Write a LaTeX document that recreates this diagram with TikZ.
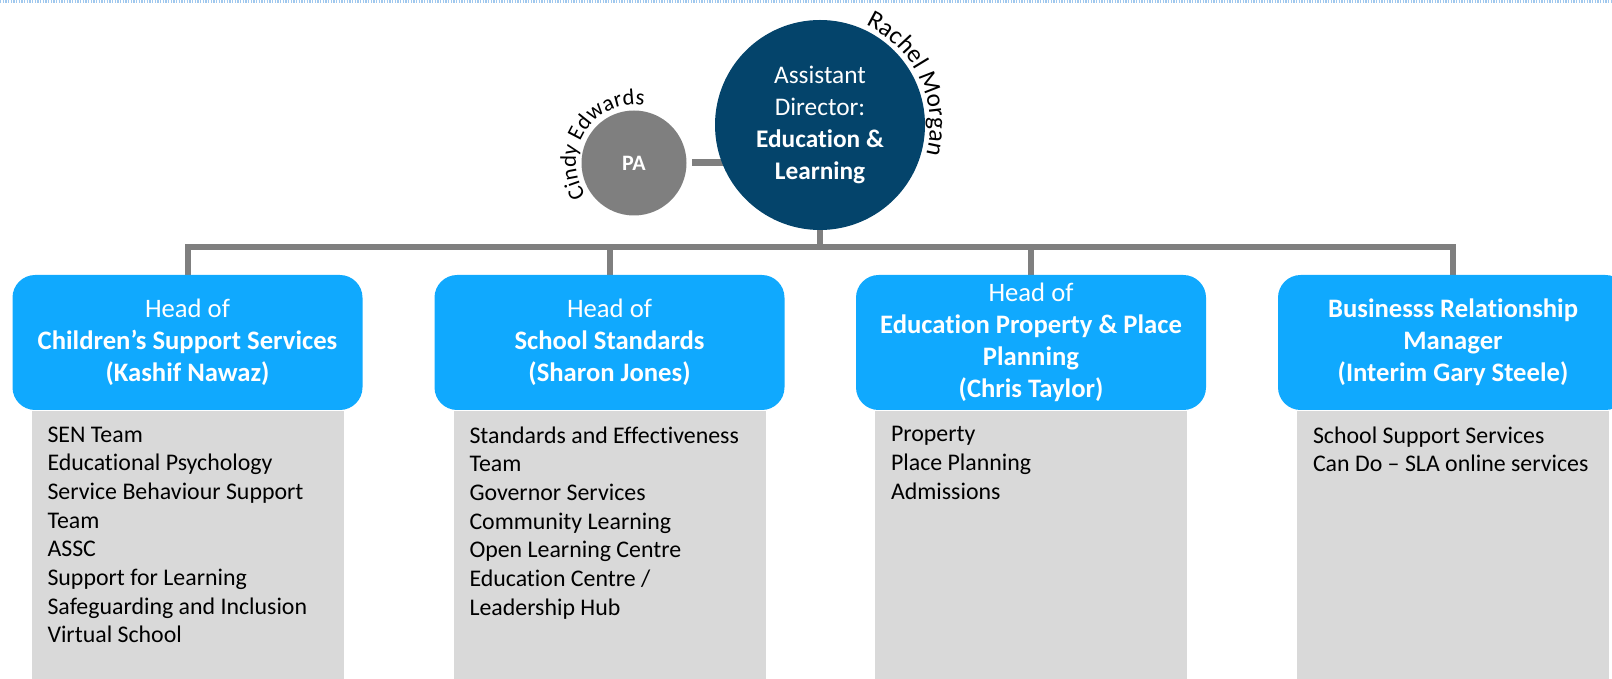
\documentclass[tikz,border=0pt]{standalone}
\usepackage{fontspec}
\setmainfont{Carlito}[Ligatures={TeX,NoCommon}]
\usetikzlibrary{positioning}
\usetikzlibrary{calc}
\usetikzlibrary{backgrounds}
\usetikzlibrary{decorations.text}

\definecolor{navy}{RGB}{4,68,107}
\definecolor{headblue}{RGB}{16,169,254}
\definecolor{listgray}{RGB}{217,217,217}
\definecolor{conngray}{RGB}{127,127,127}
\definecolor{dotblue}{RGB}{160,200,238}

\newcommand{\headfont}{\fontsize{20}{24}\selectfont}
\newcommand{\listfont}{\fontsize{17.9}{21.5}\selectfont}
\newcommand{\circfont}{\fontsize{19}{24}\selectfont}

\tikzset{
    director/.style={circle, fill=navy, text=white, minimum size=157.5pt, inner sep=0pt, align=center, font=\circfont},
    pacircle/.style={circle, fill=conngray, text=white, minimum size=78.75pt, inner sep=0pt, font=\fontsize{16.5}{20}\selectfont\bfseries},
    head/.style={rectangle, rounded corners=17pt, fill=headblue, text=white, minimum width=262.5pt, minimum height=101.25pt, inner sep=0pt, align=center, font=\headfont},
    listbox/.style={rectangle, fill=listgray, minimum width=234pt, minimum height=201pt, inner sep=0pt},
    listtext/.style={anchor=north west, align=left, inner sep=0pt, font=\listfont},
    conn/.style={draw=conngray, line width=4.5pt},
}

\begin{document}
\begin{tikzpicture}[x=0.75pt, y=0.75pt]
    \clip (0,0) rectangle (1612,678);
    \draw[dotblue, line width=2.5pt, dash pattern=on 1pt off 1pt] (0,676.5) -- (1612,676.5);

    \node[director] (ad) at (820,553) {Assistant\\Director:\\\textbf{Education \&}\\\textbf{Learning}};
    \node[pacircle] (pa) at (634,515) {PA};

    \node[head] (h1) at (187.5,335.5) {Head of\\\textbf{Children’s Support Services}\\\textbf{(Kashif Nawaz)}};
    \node[head] (h2) at (609.5,335.5) {Head of\\\textbf{School Standards}\\\textbf{(Sharon Jones)}};
    \node[head] (h3) at (1031,335.5) {Head of\\\textbf{Education Property \& Place}\\\textbf{Planning}\\\textbf{(Chris Taylor)}};
    \node[head] (h4) at (1453,335.5) {\textbf{Businesss Relationship}\\\textbf{Manager}\\\textbf{(Interim Gary Steele)}};

    \node[listbox, below=0pt of h1] (l1) {};
    \node[listbox, below=0pt of h2] (l2) {};
    \node[listbox, below=0pt of h3] (l3) {};
    \node[listbox, below=0pt of h4] (l4) {};

    \node[listtext] (t1) at ($(l1.north west)+(16,-16)$) {SEN Team\\Educational Psychology\\Service Behaviour Support\\Team\\ASSC\\Support for Learning\\Safeguarding and Inclusion\\Virtual School};
    \node[listtext] (t2) at ($(l2.north west)+(16,-16)$) {Standards and Effectiveness\\Team\\Governor Services\\Community Learning\\Open Learning Centre\\Education Centre /\\Leadership Hub};
    \node[listtext] (t3) at ($(l3.north west)+(16,-16)$) {Property\\Place Planning\\Admissions};
    \node[listtext] (t4) at ($(l4.north west)+(16,-16)$) {School Support Services\\Can Do -- SLA online services};

    % names round the circles
    \path[decorate, decoration={text along path, text align=center, text={|\fontsize{19}{22}\selectfont|Rachel Morgan}}]
        (ad.center) ++(70:110) arc[start angle=70, end angle=-20, radius=110];
    \path[decorate, decoration={text along path, text align=center, text={|\fontsize{17}{20}\selectfont|Cindy Edwards}}]
        (pa.center) ++(222:58) arc[start angle=222, end angle=72, radius=58];

    \coordinate (bus) at (0,431);
    \begin{pgfonlayer}{background}
        \draw[conn] (h1.north) |- (bus -| h4.north) -- (h4.north);
        \draw[conn] (h2.north) -- (h2.north |- bus);
        \draw[conn] (h3.north) -- (h3.north |- bus);
        \draw[conn] (ad.south) -- (ad.south |- bus);
        \draw[conn, line width=5.25pt] ([xshift=4pt]pa.east) -- (pa.east -| ad.center);
    \end{pgfonlayer}
\end{tikzpicture}
\end{document}
